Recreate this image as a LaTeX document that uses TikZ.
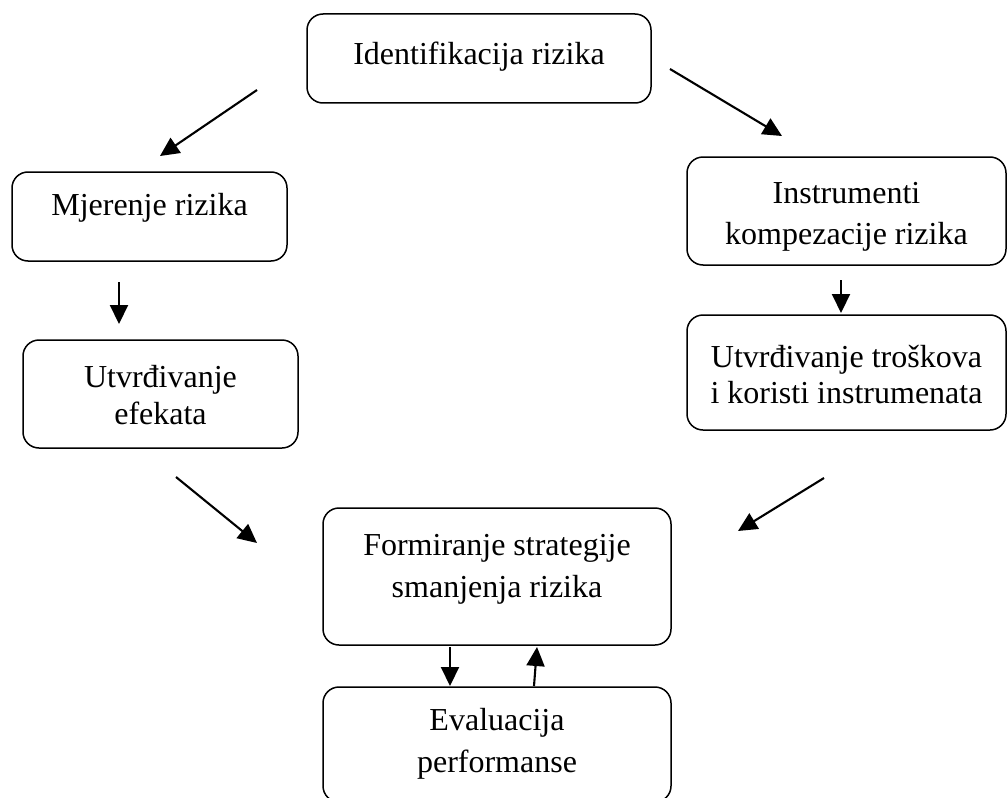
\documentclass[tikz,border=0pt]{standalone}
\usepackage{fontspec}
\setmainfont{Liberation Serif}
\usetikzlibrary{arrows.meta}

\begin{document}
\begin{tikzpicture}[x=1pt, y=-1pt,
  stage/.style={draw, line width=1.5pt, rounded corners=16pt,
    inner xsep=0pt, inner ysep=0pt, align=center,
    font=\fontsize{32}{39}\selectfont},
  flow/.style={-{Triangle[length=19pt,width=18pt]}, line width=2.1pt}]

\useasboundingbox (0,0) rectangle (1008,797);
\clip (0,0) rectangle (1008,797);

% stages: the last baseline is set through text height, the rest of the box through text depth
\node[stage, minimum width=344pt, minimum height=89pt, text height=51pt, text depth=38pt]
  (ident) at (479,58.5) {Identifikacija rizika};
\node[stage, minimum width=275pt, minimum height=89pt, text height=43pt, text depth=46pt]
  (mjer) at (149.5,216.5) {Mjerenje rizika};
\node[stage, minimum width=275pt, minimum height=108pt, text height=84pt, text depth=24pt,
  font=\fontsize{32}{37}\selectfont]
  (efekt) at (160.5,394) {Utvrđivanje\\efekata};
\node[stage, minimum width=319pt, minimum height=108pt, text height=87pt, text depth=21pt,
  font=\fontsize{32}{41}\selectfont]
  (instr) at (846.5,211) {Instrumenti\\kompezacije rizika};
\node[stage, minimum width=319pt, minimum height=115pt, text height=88pt, text depth=27pt,
  font=\fontsize{32}{36}\selectfont]
  (trosk) at (846.5,372.5) {Utvrđivanje troškova\\i koristi instrumenata};
\node[stage, minimum width=348pt, minimum height=137pt, text height=89pt, text depth=48pt,
  font=\fontsize{32}{42}\selectfont]
  (strat) at (497,576.5) {Formiranje strategije\\smanjenja rizika};
\node[stage, minimum width=348pt, minimum height=115pt, text height=85pt, text depth=30pt,
  font=\fontsize{32}{42}\selectfont]
  (eval) at (497,744.5) {Evaluacija\\performanse};

% free-standing arrow ends
\coordinate (a1s) at (257,90);   \coordinate (a1e) at (160,156);
\coordinate (a2s) at (670,69);   \coordinate (a2e) at (782,136);
\coordinate (a3s) at (119,282);  \coordinate (a3e) at (119,324);
\coordinate (a4s) at (841,280);  \coordinate (a4e) at (841,313);
\coordinate (a5s) at (176,477);  \coordinate (a5e) at (257,543);
\coordinate (a6s) at (824,478);  \coordinate (a6e) at (738,531);
\coordinate (a7s) at (450,647);  \coordinate (a7e) at (450,686);
\coordinate (a8s) at (534,686);  \coordinate (a8e) at (537,647);

\draw[flow] (a1s) -- (a1e);
\draw[flow] (a2s) -- (a2e);
\draw[flow] (a3s) -- (a3e);
\draw[flow] (a4s) -- (a4e);
\draw[flow] (a5s) -- (a5e);
\draw[flow] (a6s) -- (a6e);
\draw[flow] (a7s) -- (a7e);
\draw[flow] (a8s) -- (a8e);
\end{tikzpicture}
\end{document}
